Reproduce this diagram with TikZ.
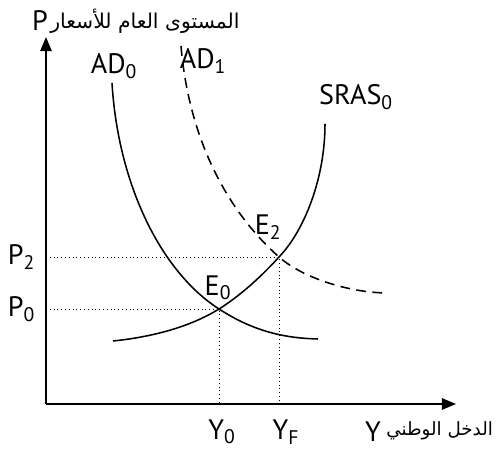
\documentclass[tikz,border=0pt]{standalone}
\usepackage{fontspec}
\setmainfont{PT Sans}
\newfontfamily\arabicfont[Script=Arabic]{DejaVu Sans}
\TeXXeTstate=1
\usetikzlibrary{arrows.meta,positioning}

\begin{document}
\begin{tikzpicture}[>={Triangle[length=10pt,width=8pt]}, font=\fontsize{20}{22}\selectfont]
  \tikzset{curve/.style={line width=1.1pt},
    guide/.style={dotted, line width=0.7pt},
    axis/.style={line width=1.4pt, ->},
    arab/.style={inner sep=0pt, font=\arabicfont\fontsize{14.5}{17}\selectfont}}
  \useasboundingbox (0,0) rectangle (12.4,11.375);

  % Axes
  \coordinate (O) at (1.15,1.275);
  \coordinate (ytip) at (1.15,10.45);
  \coordinate (xtip) at (11.4,1.275);
  \draw[axis] (O) -- (ytip);
  \draw[axis] (O) -- (xtip);

  % Axis titles
  \node (P) at (1.0,10.85) {P};
  \node[arab, anchor=west] (Ptext) at (1.25,10.85)
    {\beginR المستوى العام للأسعار\endR};
  \node (Y) at (9.325,0.575) {Y};
  \node[arab, anchor=east, font=\arabicfont\fontsize{13}{15}\selectfont] (Ytext) at (12.33,0.6)
    {\beginR الدخل الوطني\endR};

  % Equilibria
  \coordinate (E0) at (5.475,3.65);
  \coordinate (E2) at (6.975,4.95);
  \coordinate (P0ax) at (O |- E0);
  \coordinate (P2ax) at (O |- E2);
  \coordinate (Y0ax) at (E0 |- O);
  \coordinate (YFax) at (E2 |- O);

  % Curves
  \coordinate (ad0a) at (2.8,9.3);
  \coordinate (ad0b) at (7.95,2.9);
  \coordinate (ad1a) at (4.525,10.225);
  \coordinate (ad1b) at (9.7,4.05);
  \coordinate (srasa) at (2.825,2.85);
  \coordinate (srasb) at (8.125,8.275);
  \draw[curve] (ad0a) .. controls (2.95,6.8) and (4.0,4.6) .. (E0)
    .. controls (6.4,3.05) and (7.2,2.92) .. (ad0b);
  \draw[curve, dash pattern=on 7pt off 4.5pt] (ad1a) .. controls (4.75,7.6) and (5.9,5.9) .. (E2)
    .. controls (7.6,4.4) and (8.8,4.05) .. (ad1b);
  \draw[curve] (srasa) .. controls (3.8,2.95) and (4.75,3.2) .. (E0)
    .. controls (5.975,3.96) and (6.525,4.45) .. (E2)
    .. controls (7.6,5.6) and (8.125,6.9) .. (srasb);

  % Guides
  \draw[guide] (P0ax) -- (E0) -- (Y0ax);
  \draw[guide] (P2ax) -- (E2) -- (YFax);

  % Labels
  \node (AD0) at (2.85,9.725) {AD\textsubscript{0}};
  \node (AD1) at (5.075,9.85) {AD\textsubscript{1}};
  \node (SRAS0) at (8.9,8.95) {SRAS\textsubscript{0}};
  \node (E0lab) at (5.45,4.175) {E\textsubscript{0}};
  \node (E2lab) at (6.7,5.7) {E\textsubscript{2}};
  \node[left=0.15cm of P2ax] (P2) {P\textsubscript{2}};
  \node[left=0.15cm of P0ax] (P0) {P\textsubscript{0}};
  \node (Y0) at (5.55,0.575) {Y\textsubscript{0}};
  \node (YF) at (7.15,0.575) {Y\textsubscript{F}};
\end{tikzpicture}
\end{document}
